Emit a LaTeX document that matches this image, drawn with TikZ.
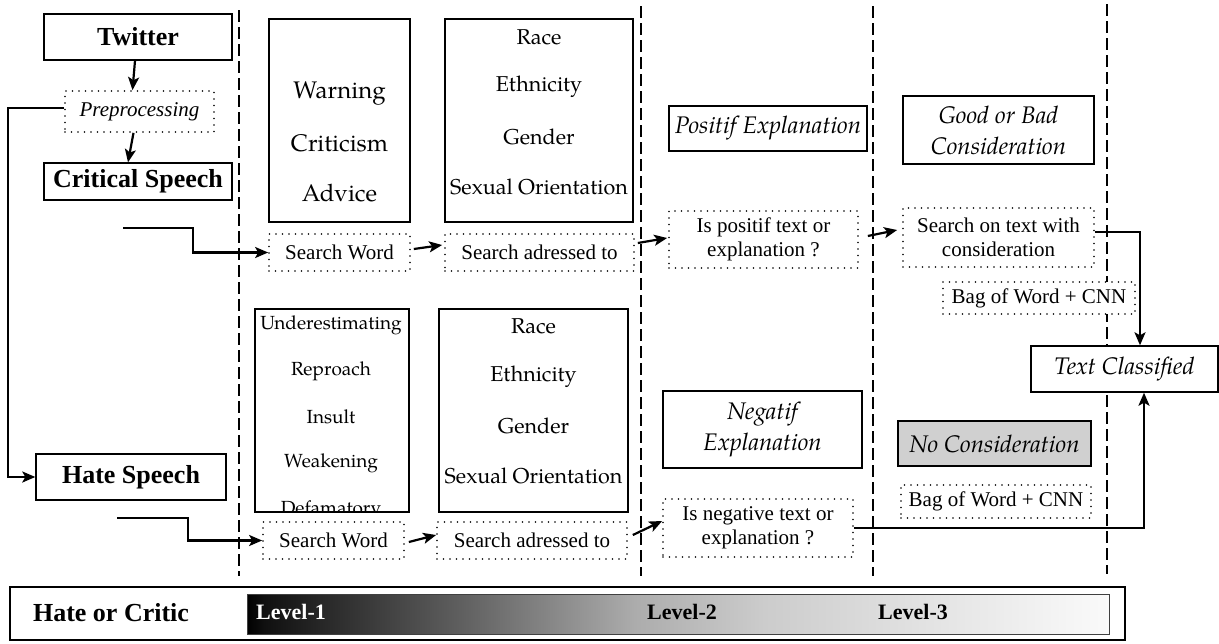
\documentclass[tikz,border=0pt]{standalone}
\usepackage{fontspec}
\setmainfont{Liberation Serif}
\newfontfamily\pal{texgyrepagella}[Extension=.otf,UprightFont=*-regular,ItalicFont=*-italic,BoldFont=*-bold]
\usetikzlibrary{arrows.meta,calc}
\newcommand\fTB{\fontsize{26}{30}\selectfont\bfseries}
\newcommand\fTR{\fontsize{21}{24}\selectfont}
\newcommand\fTI{\fontsize{21}{24}\selectfont\itshape}
\newcommand\fPR{\pal\fontsize{24}{27}\selectfont}
\newcommand\fPQ{\pal\fontsize{21.5}{27}\selectfont}
\newcommand\fPS{\pal\fontsize{19}{24}\selectfont}
\newcommand\fPI{\pal\itshape\fontsize{24}{31}\selectfont}
\newcommand\fLV{\fontsize{22}{24}\selectfont\bfseries}
\definecolor{g1}{HTML}{101010}
\definecolor{g2}{HTML}{606060}
\definecolor{g3}{HTML}{ACACAC}
\definecolor{g4}{HTML}{CCCCCC}
\definecolor{g5}{HTML}{E4E4E4}
\definecolor{g6}{HTML}{FAFAFA}
\definecolor{nocfill}{HTML}{D0D0D0}
\pgfdeclarehorizontalshading{lvlshade}{100bp}{color(0bp)=(black); color(25bp)=(black); color(26bp)=(g1); color(37.5bp)=(g2); color(47.5bp)=(g3); color(55bp)=(g4); color(65bp)=(g5); color(75bp)=(g6); color(100bp)=(g6)}
\tikzset{
  box/.style={draw=black, line width=1.4pt, fill=white, inner sep=0pt, align=center},
  dotbox/.style={draw=black, line width=1.7pt, dash pattern=on 0pt off 6.5pt, line cap=round, fill=white, inner sep=0pt, align=center},
  sepline/.style={line width=1.4pt, dash pattern=on 12pt off 5pt},
  arr/.style={line width=2.2pt, -{Stealth[length=13pt,width=11pt,inset=3pt]}},
  txt/.style={inner sep=0pt},
}
\begin{document}
\begin{tikzpicture}[x=1pt,y=-1pt]
\useasboundingbox (0,0) rectangle (1219,643);
% column separators
\draw[sepline] (239,10) -- (239,576);
\draw[sepline] (641,6) -- (641,576);
\draw[sepline] (873,6) -- (873,576);
\draw[sepline] (1107,4) -- (1107,574);

% left column
\node[box, font=\fTB, minimum width=188, minimum height=46] (twitter) at (138,37) {Twitter};
\node[dotbox, font=\fTI, minimum width=149, minimum height=41] (prep) at (139.5,111.5) {Preprocessing};
\node[box, font=\fTB, minimum width=188, minimum height=37] (critical) at (138,181.5) {Critical Speech};
\node[box, font=\fTB, minimum width=190, minimum height=46] (hate) at (131,477) {Hate Speech};

% column 2 top
\node[box, minimum width=141, minimum height=203] (warnbox) at (339.5,120.5) {};
\node[txt, font=\fPR] (w1) at (339.5,93) {Warning};
\node[txt, font=\fPR] (w2) at (339.5,143) {Criticism};
\node[txt, font=\fPR] (w3) at (339.5,193) {Advice};
\node[box, minimum width=188, minimum height=203] (race1) at (539,120.5) {};
\node[txt, font=\fPQ] (r1) at (539,37) {Race};
\node[txt, font=\fPQ] (r2) at (539,87) {Ethnicity};
\node[txt, font=\fPQ] (r3) at (539,137) {Gender};
\node[txt, font=\fPQ] (r4) at (539,187) {Sexual Orientation};
\node[dotbox, font=\fTR, minimum width=141, minimum height=37] (sw1) at (339.5,252.5) {Search Word};
\node[dotbox, font=\fTR, minimum width=189, minimum height=37] (sa1) at (539.5,252.5) {Search adressed to};

% column 2 bottom
\node[box, minimum width=154, minimum height=203] (under) at (332,410.5) {};
\node[txt, font=\fPS] (u1) at (331,325) {Underestimating};
\node[txt, font=\fPS] (u2) at (331,371) {Reproach};
\node[txt, font=\fPS] (u3) at (331,417) {Insult};
\node[txt, font=\fPS] (u4) at (331,463) {Weakening};
\begin{scope}
\clip (256,310) rectangle (408,511);
\node[txt, font=\fPS] (u5) at (331,510) {Defamatory};
\end{scope}
\node[box, minimum width=189, minimum height=203] (race2) at (533.5,410.5) {};
\node[txt, font=\fPQ] (s1) at (533.5,326) {Race};
\node[txt, font=\fPQ] (s2) at (533.5,377) {Ethnicity};
\node[txt, font=\fPQ] (s3) at (533.5,426) {Gender};
\node[txt, font=\fPQ] (s4) at (533.5,476) {Sexual Orientation};
\node[dotbox, font=\fTR, minimum width=141, minimum height=37] (sw2) at (333.5,540.5) {Search Word};
\node[dotbox, font=\fTR, minimum width=190, minimum height=37] (sa2) at (532,540.5) {Search adressed to};

% column 3
\node[box, font=\fPI, minimum width=198, minimum height=45] (posexp) at (768,128.5) {Positif Explanation};
\node[dotbox, font=\fTR, minimum width=189, minimum height=57] (ispos) at (763.5,239.5) {Is positif text or\\explanation ?};
\node[box, font=\fPI, minimum width=199, minimum height=77] (negexp) at (762.5,429.5) {Negatif\\Explanation};
\node[dotbox, font=\fTR, minimum width=190, minimum height=58] (isneg) at (758,528) {Is negative text or\\explanation ?};

% column 4
\node[box, font=\fPI, minimum width=191, minimum height=68] (goodbad) at (998.5,130) {Good or Bad\\Consideration};
\node[dotbox, font=\fTR, minimum width=191, minimum height=59] (search) at (998.5,237.5) {Search on text with\\consideration};
\node[dotbox, font=\fTR, minimum width=192, minimum height=32] (bag1) at (1039,298) {Bag of Word + CNN};
\node[box, font=\fPI, minimum width=187, minimum height=46] (textcls) at (1124.5,369) {Text Classified};
\node[box, font=\fPI, fill=nocfill, minimum width=193, minimum height=45] (nocons) at (994.5,443.5) {No Consideration};
\node[dotbox, font=\fTR, minimum width=190, minimum height=33] (bag2) at (996,501.5) {Bag of Word + CNN};

% connectors
\draw[arr] ([xshift=-3pt]twitter.south) -- ([xshift=-7pt]prep.north);
\draw[arr] ([xshift=-6pt]prep.south) -- ([xshift=-10pt]critical.north);
\coordinate (lc) at (8,108);
\draw[arr] ([yshift=3.5pt]prep.west) -- (lc) |- (hate.west);
\coordinate (cs) at (123,228);
\draw[arr] (cs) -- ++(70,0) |- (sw1.west);
\coordinate (hs) at (117,518);
\draw[arr] (hs) -- ++(71,0) |- (sw2.west);
\draw[arr] ([xshift=3pt,yshift=3.5pt]sw1.east) -- ([xshift=-2pt,yshift=7.5pt]sa1.west);
\draw[arr] ([xshift=4pt,yshift=-1.5pt]sw2.east) -- ([xshift=0pt,yshift=5.5pt]sa2.west);
\draw[arr] ([xshift=3pt,yshift=9.5pt]sa1.east) -- ([xshift=-1pt,yshift=1.5pt]ispos.west);
\draw[arr] ([xshift=5pt,yshift=5.5pt]sa2.east) -- ([xshift=0pt,yshift=7pt]isneg.west);
\draw[arr] ([xshift=9pt,yshift=3.5pt]ispos.east) -- ([xshift=-5pt,yshift=7.5pt]search.west);
\draw[arr] ([yshift=5.5pt]search.east) -| ([xshift=15.5pt]textcls.north);
\draw[arr] (isneg.east) -| ([xshift=19.5pt]textcls.south);

% bottom level bar
\node[draw=black, line width=1.4pt, inner sep=0pt, minimum width=1115, minimum height=53] (outer) at (567.5,613.5) {};
\node[draw=black!75, line width=1pt, shading=lvlshade, inner sep=0pt, minimum width=862, minimum height=40] (bar) at (678,614) {};
\node[txt, font=\fTB] (hoc) at (111,613) {Hate or Critic};
\node[txt, font=\fLV, text=white] (lv1) at (291,612) {Level-1};
\node[txt, font=\fLV] (lv2) at (682,612) {Level-2};
\node[txt, font=\fLV] (lv3) at (913,612) {Level-3};
\end{tikzpicture}
\end{document}
